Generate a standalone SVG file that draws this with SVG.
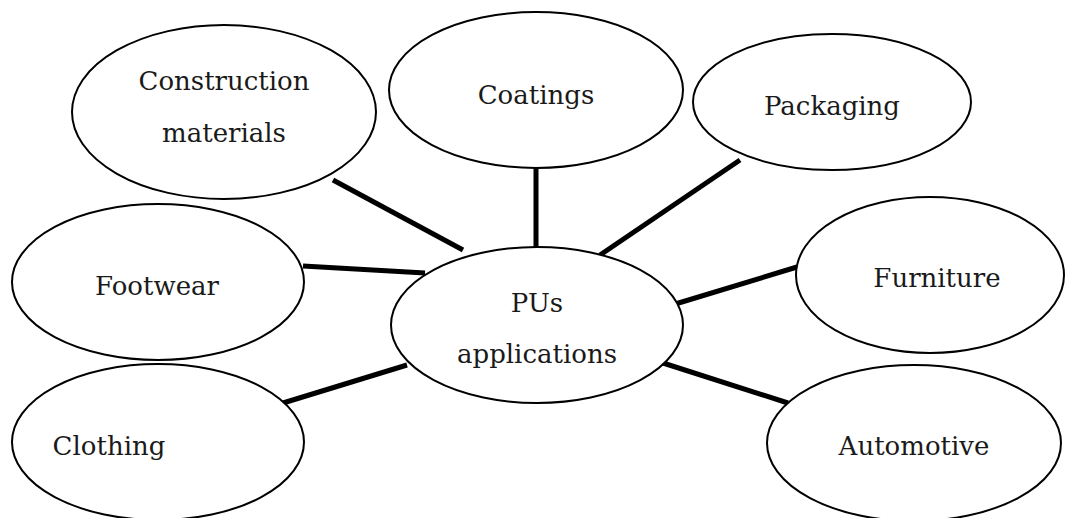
<svg xmlns="http://www.w3.org/2000/svg" width="1067" height="518" viewBox="0 0 1067 518">
<style>
.n ellipse{fill:#fff;stroke:#000;stroke-width:2}
.n text{font-family:"DejaVu Serif","Liberation Serif",serif;font-size:26px;fill:#1a1a1a;text-anchor:middle}
#connectors line{stroke:#000;stroke-width:5}
</style>
<rect width="1067" height="518" fill="#fff"/>
<g id="connectors">
<line x1="333" y1="180" x2="463" y2="250"/>
<line x1="536" y1="168" x2="536" y2="248"/>
<line x1="740" y1="160" x2="600" y2="255"/>
<line x1="303" y1="266" x2="425" y2="273"/>
<line x1="283" y1="403" x2="407" y2="365"/>
<line x1="672" y1="305" x2="797" y2="267"/>
<line x1="663" y1="363" x2="788" y2="403"/>
</g>
<g id="construction" class="n"><ellipse cx="224" cy="112" rx="152" ry="87"/><text x="224" y="90">Construction</text><text x="224" y="142">materials</text></g>
<g id="coatings" class="n"><ellipse cx="536" cy="90" rx="147" ry="78"/><text x="536" y="104">Coatings</text></g>
<g id="packaging" class="n"><ellipse cx="832" cy="102" rx="139" ry="68"/><text x="832" y="115">Packaging</text></g>
<g id="footwear" class="n"><ellipse cx="158" cy="282" rx="146" ry="78"/><text x="157" y="295">Footwear</text></g>
<g id="pus" class="n"><ellipse cx="537" cy="325" rx="146" ry="78"/><text x="537" y="312">PUs</text><text x="537" y="363">applications</text></g>
<g id="furniture" class="n"><ellipse cx="930" cy="275" rx="134" ry="78"/><text x="937" y="287">Furniture</text></g>
<g id="clothing" class="n"><ellipse cx="158" cy="442" rx="146" ry="78"/><text x="109" y="455">Clothing</text></g>
<g id="automotive" class="n"><ellipse cx="914" cy="443" rx="147" ry="78"/><text x="914" y="455">Automotive</text></g>
</svg>
